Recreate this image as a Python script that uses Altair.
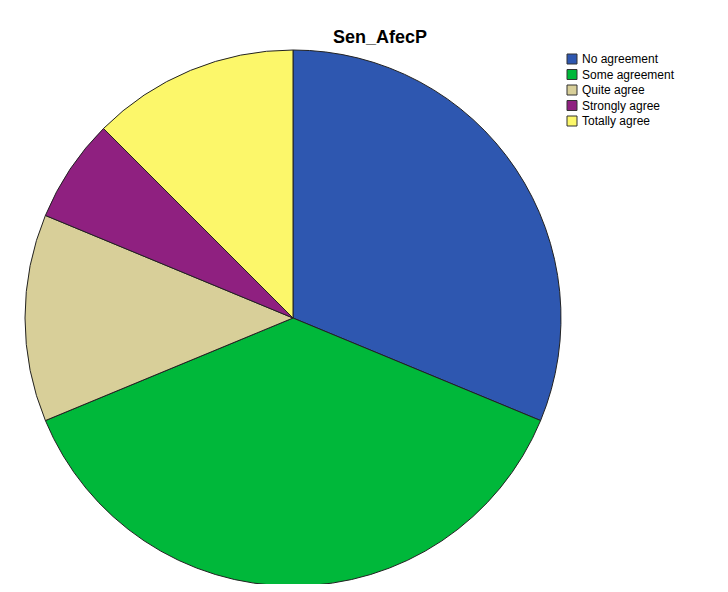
import altair as alt
import pandas as pd

categories = ["No agreement", "Some agreement", "Quite agree", "Strongly agree", "Totally agree"]
counts = [5, 6, 2, 1, 2]
colors = ["#2E57B0", "#00B83A", "#D8CF99", "#8F2080", "#FCF76A"]

df = pd.DataFrame({"category": categories, "count": counts, "order": list(range(len(categories)))})

chart = alt.Chart(df).mark_arc(outerRadius=268, stroke="#222222", strokeWidth=1).encode(
    theta=alt.Theta("count:Q", stack=True),
    order=alt.Order("order:Q"),
    color=alt.Color(
        "category:N",
        sort=categories,
        scale=alt.Scale(domain=categories, range=colors),
        legend=alt.Legend(
            title=None,
            orient="none",
            legendX=558,
            legendY=45,
            symbolType="square",
            symbolSize=100,
            symbolStrokeColor="#333333",
            symbolStrokeWidth=1,
            labelFont="Liberation Sans",
            labelFontSize=12,
            labelColor="#000000",
            rowPadding=1.5,
            labelOffset=4,
        ),
    ),
    x=alt.value(285),
    y=alt.value(310),
).properties(
    width=712,
    height=576,
    autosize=alt.AutoSizeParams(type="none"),
    padding=0,
    title=alt.TitleParams(
        "Sen_AfecP",
        font="Liberation Sans",
        fontSize=18,
        fontWeight="bold",
        color="#000000",
        anchor="start",
        dx=325,
        offset=-39,
    ),
).configure_view(stroke=None)

chart.save("out.html", embed_options={"renderer": "svg", "actions": False})
